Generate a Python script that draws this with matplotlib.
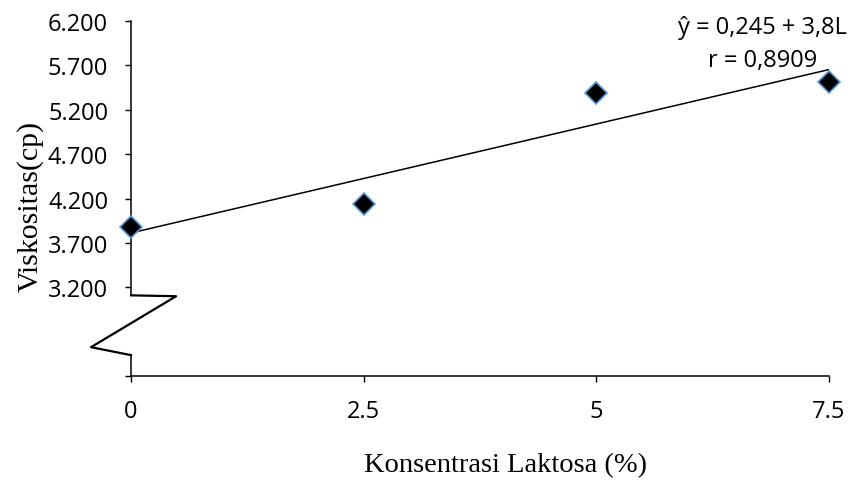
import numpy as np
from matplotlib import pyplot as plt
from matplotlib.lines import Line2D

plt.rcParams.update({'font.family': 'Open Sans', 'font.size': 17})

laktosa = [0, 2.5, 5, 7.5]
viskositas = [3.885, 4.144, 5.390, 5.515]
yticks = [2.2, 3.2, 3.7, 4.2, 4.7, 5.2, 5.7, 6.2]
ylabels = ['', '3.200', '3.700', '4.200', '4.700', '5.200', '5.700', '6.200']
xticks = [0, 2.5, 5, 7.5]
xlabels = ['0', '2.5', '5', '7.5']

fig = plt.figure(figsize=(8.51, 4.81), dpi=100)
ax = fig.add_axes([0.154, 0.216, 0.82, 0.738])

# regression line
slope, icept = np.polyfit(laktosa, viskositas, 1)
xx = np.array([0, 7.5])
ax.plot(xx, icept + slope * xx, color='black', linewidth=1.1, zorder=2)
ax.plot(laktosa, viskositas, linestyle='none', marker='D', markersize=11.5,
        markerfacecolor='black', markeredgecolor='#5b9bd5', markeredgewidth=1.2,
        zorder=3, clip_on=False)

ax.set_xlim(0, 7.5)
ax.set_ylim(2.2, 6.2)
ax.set_xticks(xticks)
ax.set_xticklabels(xlabels)
ax.set_yticks(yticks)
ax.set_yticklabels(ylabels)
ax.tick_params(direction='out', length=4.5, width=1)
ax.tick_params(axis='x', pad=12)
ax.tick_params(axis='y', pad=12)

for s in ['top', 'right']:
    ax.spines[s].set_visible(False)
ax.spines['left'].set_bounds(3.11, 6.2)
ax.spines['bottom'].set_linewidth(1.1)
ax.spines['left'].set_linewidth(1.1)

# axis break symbol
bx = [0, 0.484, -0.43, 0, 0]
by = [3.11, 3.10, 2.526, 2.436, 2.2]
ax.add_line(Line2D(bx[:4], by[:4], color='black', linewidth=1.6, clip_on=False))
ax.add_line(Line2D(bx[3:], by[3:], color='black', linewidth=1.1, clip_on=False))

ax.text(6.79, 6.135, 'ŷ = 0,245 + 3,8L', ha='center', va='center', fontsize=17)
ax.text(6.79, 5.765, 'r = 0,8909', ha='center', va='center', fontsize=17)

ax.set_ylabel('Viskositas(cp)', family='Liberation Serif', fontsize=21.5)
ax.set_xlabel('Konsentrasi Laktosa (%)', family='Liberation Serif', fontsize=20.5)
ax.xaxis.set_label_coords(0.537, -0.248)
ax.xaxis.label.set_va('center')
ax.yaxis.set_label_coords(-0.1447, 0.4817)
ax.yaxis.label.set_va('center')

plt.savefig('out.png', dpi=100)
plt.close()
